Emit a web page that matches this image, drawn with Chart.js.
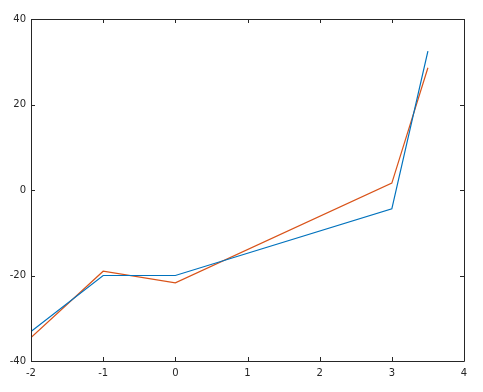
<!DOCTYPE html>
<html>
<head>
<style>
  html, body { margin: 0; padding: 0; background: #fff; }
  #wrap { width: 483px; height: 392px; }
</style>
</head>
<body>
<div id="wrap"><canvas id="mychart"></canvas></div>
<script src="https://cdn.jsdelivr.net/npm/chart.js@4/dist/chart.umd.min.js"></script>
<script>
// x positions shared by both lines
var xVals = [-2, -1, 0, 3, 3.5];
var blueVals = [-33.1, -20, -20, -4.4, 32.5];
var redVals = [-34.5, -19, -21.7, 1.6, 28.6];

var xTicks = [-2, -1, 0, 1, 2, 3, 4];
var yTicks = [-40, -20, 0, 20, 40];

function pts(ys) {
  return xVals.map(function (x, i) { return { x: x, y: ys[i] }; });
}

// box round the plot plus inward ticks on all four sides
var boxTicks = {
  id: 'boxTicks',
  afterDraw: function (chart) {
    var ctx = chart.ctx, a = chart.chartArea;
    var sx = chart.scales.x, sy = chart.scales.y;
    var len = 4;
    ctx.save();
    ctx.strokeStyle = '#262626';
    ctx.lineWidth = 1;
    ctx.beginPath();
    ctx.rect(Math.round(a.left) + 0.5, Math.round(a.top) + 0.5,
             Math.round(a.right - a.left), Math.round(a.bottom - a.top));
    xTicks.forEach(function (t) {
      var px = Math.round(sx.getPixelForValue(t)) + 0.5;
      ctx.moveTo(px, a.bottom); ctx.lineTo(px, a.bottom - len);
      ctx.moveTo(px, a.top); ctx.lineTo(px, a.top + len);
    });
    yTicks.forEach(function (t) {
      var py = Math.round(sy.getPixelForValue(t)) + 0.5;
      ctx.moveTo(a.left, py); ctx.lineTo(a.left + len, py);
      ctx.moveTo(a.right, py); ctx.lineTo(a.right - len, py);
    });
    ctx.stroke();
    ctx.restore();
  }
};

let mychart = document.getElementById('mychart').getContext('2d');

let lineChart = new Chart(mychart, {
  type: 'line',
  data: {
    datasets: [{
      data: pts(blueVals),
      borderColor: '#0072BD',
      borderWidth: 1.2,
      pointRadius: 0,
      fill: false,
      tension: 0
    }, {
      data: pts(redVals),
      borderColor: '#D95319',
      borderWidth: 1.2,
      pointRadius: 0,
      fill: false,
      tension: 0
    }]
  },
  options: {
    responsive: true,
    maintainAspectRatio: false,
    animation: false,
    layout: { padding: { top: 19, right: 19, left: 0, bottom: 0 } },
    plugins: { legend: { display: false }, tooltip: { enabled: false } },
    scales: {
      x: {
        type: 'linear',
        min: -2, max: 4,
        afterBuildTicks: function (s) { s.ticks = xTicks.map(function (v) { return { value: v }; }); },
        afterFit: function (s) { s.height = 31; },
        grid: { display: false, drawTicks: false },
        border: { display: false },
        ticks: { color: '#262626', font: { family: 'DejaVu Sans', size: 10 }, padding: 6, maxRotation: 0 }
      },
      y: {
        type: 'linear',
        min: -40, max: 40,
        afterBuildTicks: function (s) { s.ticks = yTicks.map(function (v) { return { value: v }; }); },
        afterFit: function (s) { s.width = 31; },
        grid: { display: false, drawTicks: false },
        border: { display: false },
        ticks: { color: '#262626', font: { family: 'DejaVu Sans', size: 10 }, padding: 5 }
      }
    }
  },
  plugins: [boxTicks]
});
</script>
</body>
</html>
